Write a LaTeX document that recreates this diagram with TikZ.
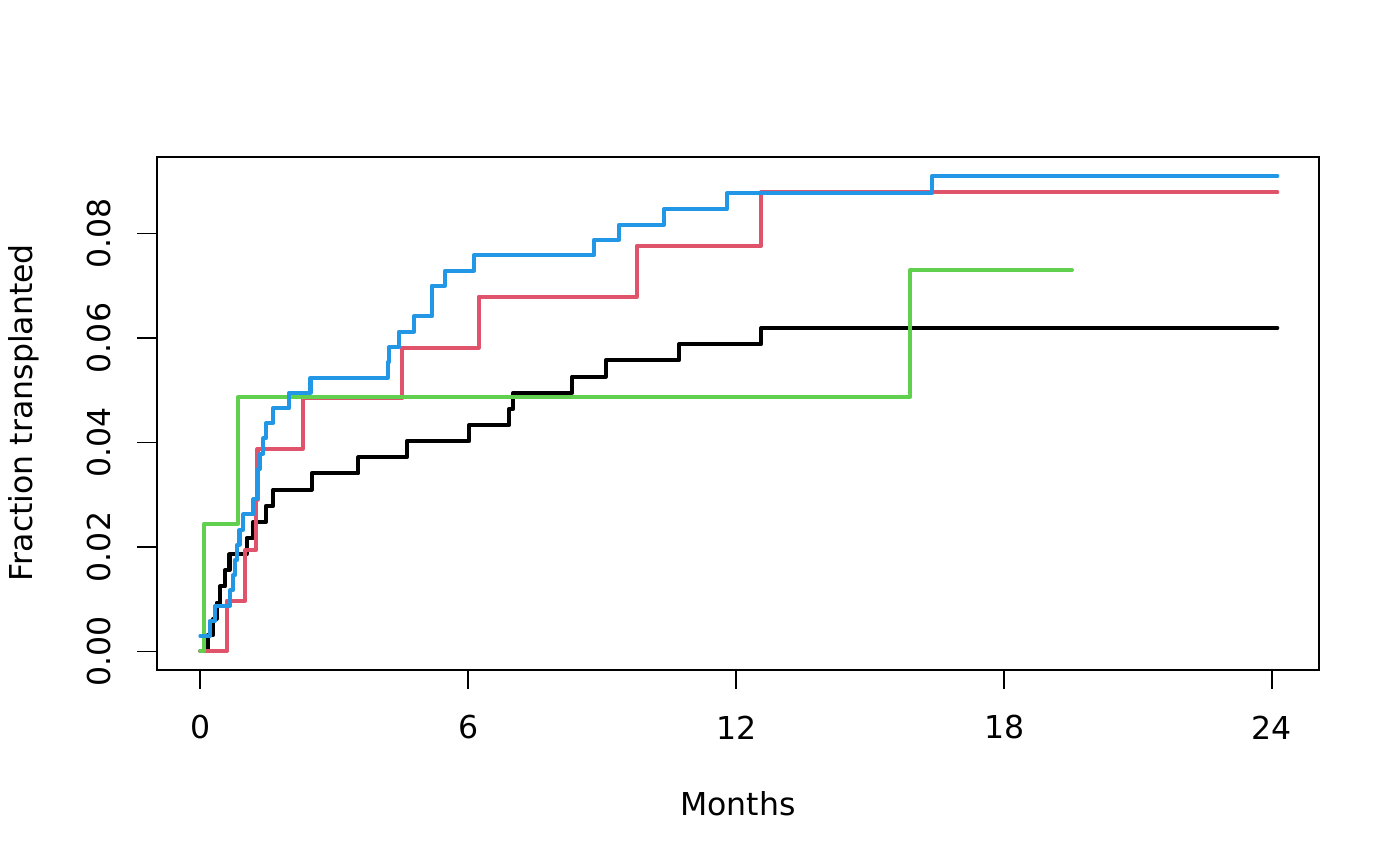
\documentclass[tikz,border=0pt]{standalone}
\usepackage{fontspec}
\setmainfont{DejaVu Sans}
\usepackage{tikz}
\definecolor{kmblack}{HTML}{000000}
\definecolor{kmred}{HTML}{DF536B}
\definecolor{kmgreen}{HTML}{61D04F}
\definecolor{kmblue}{HTML}{2297E6}
\newcommand{\plotfont}{\fontsize{11.4}{13.5}\selectfont}
\tikzset{
  curve/.style={line width=1.45pt, line cap=round, line join=round},
  frame/.style={line width=0.6pt},
  tick/.style={line width=0.6pt}
}

\begin{document}
\begin{tikzpicture}[scale=0.127]
\tikzstyle{every node}+=[inner sep=0pt, font=\plotfont]
\useasboundingbox (0,0) rectangle (140,-86.6);
% frame and ticks
\draw [frame] (15.73,-15.67) rectangle (131.93,-67.0);
\draw [tick] (20.03,-67.0) -- (20.03,-68.93);
\draw [tick] (46.82,-67.0) -- (46.82,-68.93);
\draw [tick] (73.62,-67.0) -- (73.62,-68.93);
\draw [tick] (100.41,-67.0) -- (100.41,-68.93);
\draw [tick] (127.2,-67.0) -- (127.2,-68.93);
\draw [tick] (15.73,-65.15) -- (13.73,-65.15);
\draw [tick] (15.73,-54.7) -- (13.73,-54.7);
\draw [tick] (15.73,-44.25) -- (13.73,-44.25);
\draw [tick] (15.73,-33.8) -- (13.73,-33.8);
\draw [tick] (15.73,-23.35) -- (13.73,-23.35);
% tick labels
\node (x0) at (20.03,-72.75) {0};
\node (x6) at (46.82,-72.75) {6};
\node (x12) at (73.62,-72.75) {12};
\node (x18) at (100.41,-72.75) {18};
\node (x24) at (127.2,-72.75) {24};
\node [rotate=90] (y0) at (9.95,-65.15) {0.00};
\node [rotate=90] (y2) at (9.95,-54.7) {0.02};
\node [rotate=90] (y4) at (9.95,-44.25) {0.04};
\node [rotate=90] (y6) at (9.95,-33.8) {0.06};
\node [rotate=90] (y8) at (9.95,-23.35) {0.08};
% axis titles
\node (months) at (73.8,-80.4) {Months};
\node [rotate=90] (fraction) at (2.42,-41.25) {Fraction transplanted};
% black curve
\draw [curve, kmblack] (20.03,-65.1) -- (20.77,-65.1) -- (20.77,-63.49) -- (21.33,-63.49) -- (21.33,-61.87) -- (21.67,-61.87) -- (21.67,-60.25) -- (22.0,-60.25) -- (22.0,-58.64) -- (22.5,-58.64) -- (22.5,-57.03) -- (22.95,-57.03) -- (22.95,-55.41) -- (24.67,-55.41) -- (24.67,-53.8) -- (25.33,-53.8) -- (25.33,-52.18) -- (26.6,-52.18) -- (26.6,-50.57) -- (27.33,-50.57) -- (27.33,-48.95) -- (31.17,-48.95) -- (31.17,-47.34) -- (35.83,-47.34) -- (35.83,-45.72) -- (40.67,-45.72) -- (40.67,-44.11) -- (46.93,-44.11) -- (46.93,-42.49) -- (50.93,-42.49) -- (50.93,-40.88) -- (51.33,-40.88) -- (51.33,-39.26) -- (57.23,-39.26) -- (57.23,-37.65) -- (60.57,-37.65) -- (60.57,-36.03) -- (67.9,-36.03) -- (67.9,-34.42) -- (76.1,-34.42) -- (76.1,-32.8) -- (127.73,-32.8);
% red curve
\draw [curve, kmred] (20.03,-65.1) -- (22.7,-65.1) -- (22.7,-60.05) -- (24.5,-60.05) -- (24.5,-55.0) -- (25.6,-55.0) -- (25.6,-49.95) -- (25.75,-49.95) -- (25.75,-44.85) -- (30.27,-44.85) -- (30.27,-39.83) -- (40.23,-39.83) -- (40.23,-34.77) -- (47.87,-34.77) -- (47.87,-29.67) -- (63.67,-29.67) -- (63.67,-24.6) -- (76.1,-24.6) -- (76.1,-19.23) -- (127.73,-19.23);
% green curve
\draw [curve, kmgreen] (20.03,-65.1) -- (20.43,-65.1) -- (20.43,-52.35) -- (23.8,-52.35) -- (23.8,-39.7) -- (91.0,-39.7) -- (91.0,-27.0) -- (107.2,-27.0);
% blue curve
\draw [curve, kmblue] (20.03,-63.6) -- (21.0,-63.6) -- (21.0,-62.08) -- (21.5,-62.08) -- (21.5,-60.56) -- (23.0,-60.56) -- (23.0,-59.04) -- (23.27,-59.04) -- (23.27,-57.52) -- (23.5,-57.52) -- (23.5,-56.0) -- (23.73,-56.0) -- (23.73,-54.48) -- (23.95,-54.48) -- (23.95,-52.96) -- (24.33,-52.96) -- (24.33,-51.44) -- (25.33,-51.44) -- (25.33,-49.92) -- (25.67,-49.92) -- (25.67,-48.4) -- (25.83,-48.4) -- (25.83,-46.88) -- (26.0,-46.88) -- (26.0,-45.36) -- (26.33,-45.36) -- (26.33,-43.84) -- (26.6,-43.84) -- (26.6,-42.32) -- (27.33,-42.32) -- (27.33,-40.8) -- (28.93,-40.8) -- (28.93,-39.28) -- (31.05,-39.28) -- (31.05,-37.76) -- (38.77,-37.76) -- (38.77,-36.23) -- (38.9,-36.23) -- (38.9,-34.7) -- (39.9,-34.7) -- (39.9,-33.17) -- (41.4,-33.17) -- (41.4,-31.63) -- (43.17,-31.63) -- (43.17,-28.57) -- (44.5,-28.57) -- (44.5,-27.07) -- (47.4,-27.07) -- (47.4,-25.53) -- (59.4,-25.53) -- (59.4,-23.97) -- (61.9,-23.97) -- (61.9,-22.47) -- (66.4,-22.47) -- (66.4,-20.9) -- (72.7,-20.9) -- (72.7,-19.33) -- (93.2,-19.33) -- (93.2,-17.6) -- (127.73,-17.6);
\end{tikzpicture}
\end{document}
